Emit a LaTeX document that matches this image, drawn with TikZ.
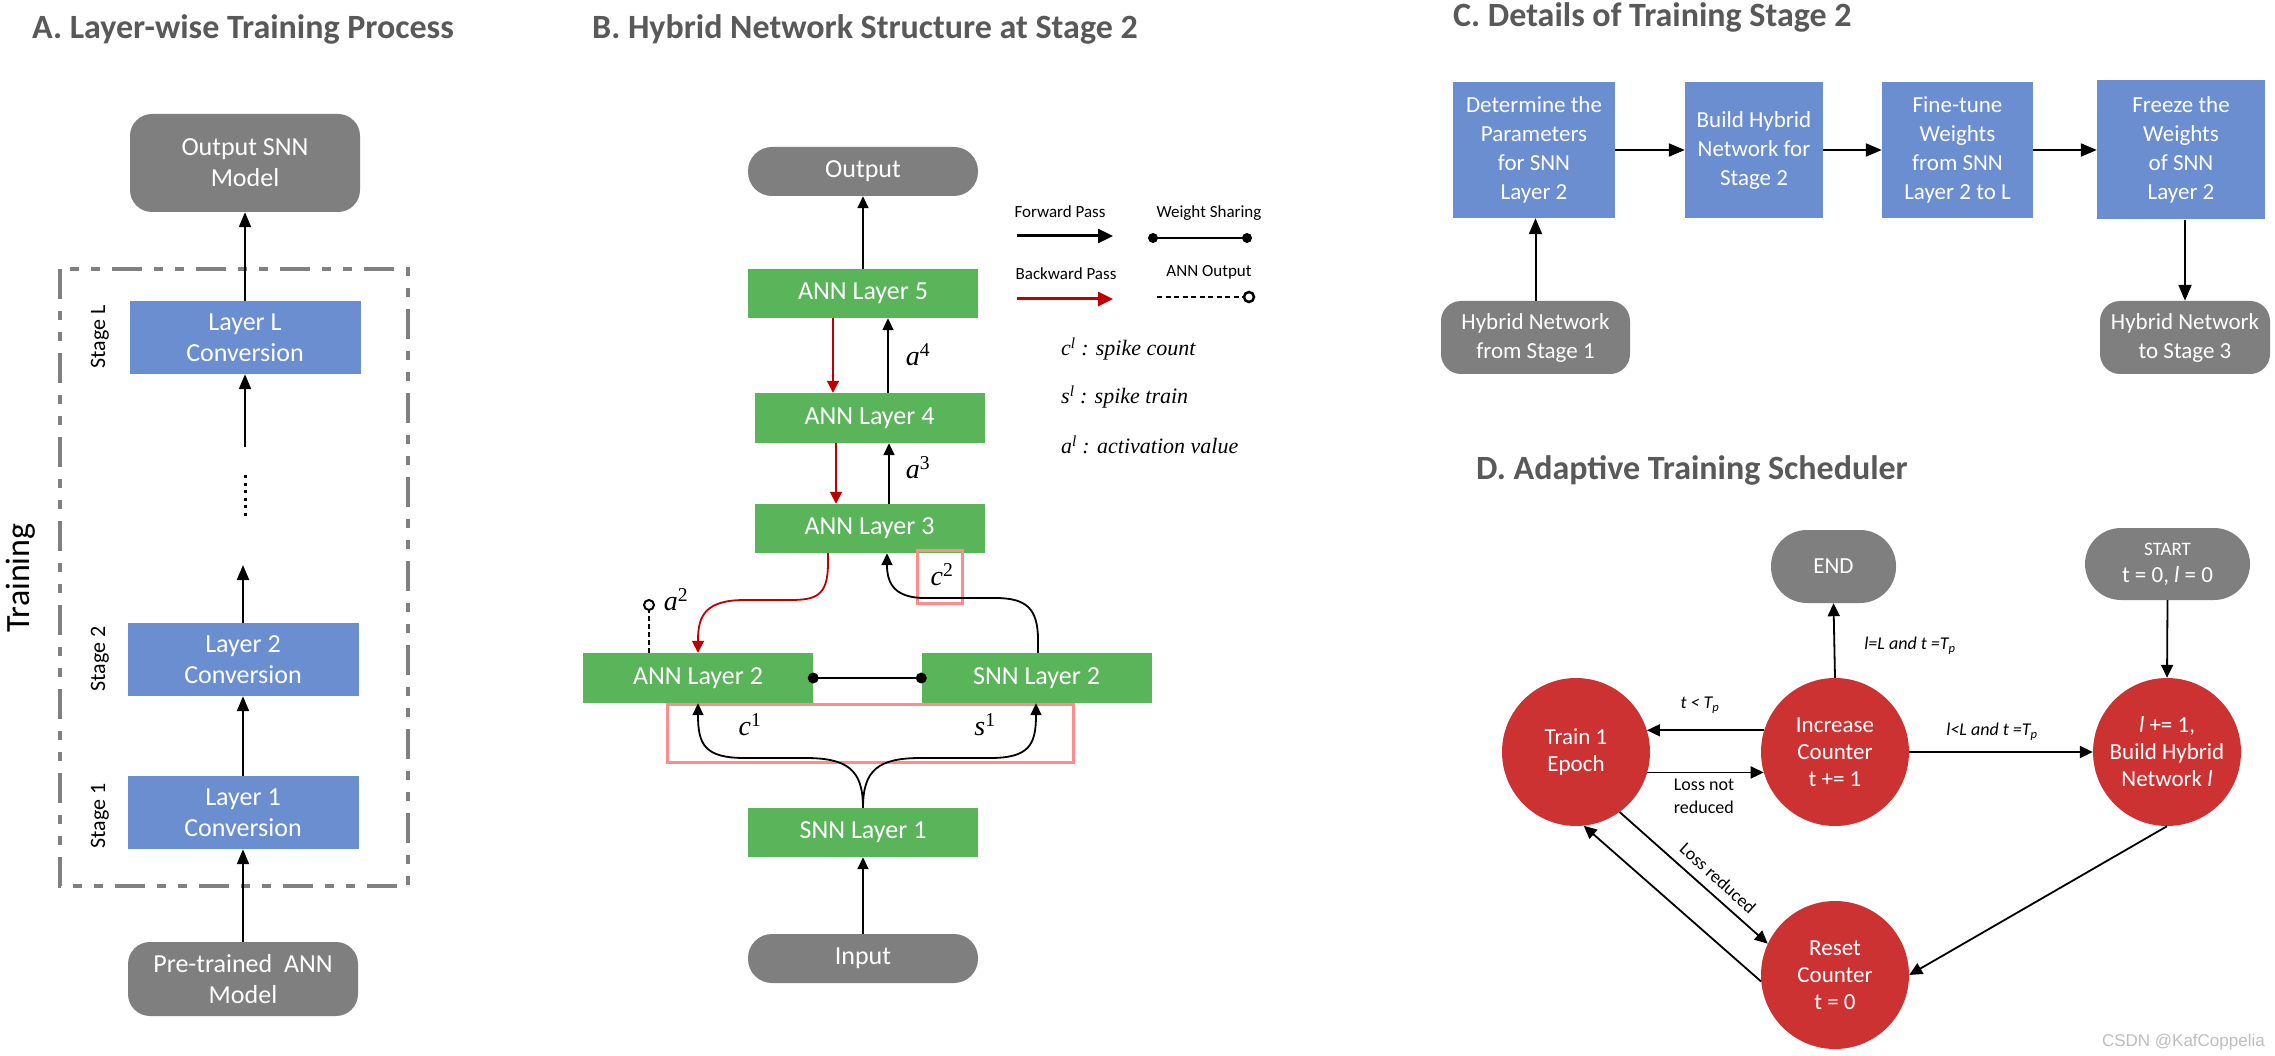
\documentclass[tikz,border=0pt]{standalone}
\usepackage{fontspec}
\setmainfont{Carlito}
\newfontfamily\tnr{Liberation Serif}
\newfontfamily\wmfont{Liberation Sans}
\usetikzlibrary{arrows.meta}
\definecolor{boxgray}{HTML}{7F7F7F}
\definecolor{boxblue}{HTML}{6A8ECF}
\definecolor{boxgreen}{HTML}{5AB45A}
\definecolor{circred}{HTML}{CD3232}
\definecolor{titlegray}{HTML}{595959}
\definecolor{pinkc}{HTML}{FF8C8C}
\definecolor{backred}{HTML}{C00000}
\definecolor{dashgray}{HTML}{808080}
\definecolor{wmgray}{HTML}{BEBEBE}
\begin{document}
\begin{tikzpicture}[x=1pt,y=-1pt,
  every node/.style={inner sep=0pt},
  ttl/.style={font=\fontsize{34}{40}\selectfont\bfseries, text=titlegray, anchor=base west},
  fA/.style={font=\fontsize{26}{31}\selectfont},
  grayA/.style={fill=boxgray, text=white, rounded corners=22pt, align=center, fA, minimum width=230pt, minimum height=74pt},
  blueA/.style={fill=boxblue, text=white, align=center, fA, minimum width=231pt, minimum height=73pt},
  stagelbl/.style={rotate=90, anchor=base, font=\fontsize{22}{26}\selectfont},
  arrA/.style={-{Triangle[length=15pt,width=12pt]}, line width=2.2pt},
  greenB/.style={fill=boxgreen, text=white, font=\fontsize{26}{31}\selectfont, minimum width=230pt, minimum height=49pt},
  grayB/.style={fill=boxgray, text=white, font=\fontsize{26}{31}\selectfont, minimum width=230pt, minimum height=49pt, rounded corners=24pt},
  arrB/.style={-{Triangle[length=12pt,width=11pt]}, line width=1.8pt},
  redB/.style={-{Triangle[length=12pt,width=12pt]}, line width=1.8pt, draw=backred, fill=backred},
  mathlbl/.style={font=\fontsize{28}{32}\selectfont\tnr\itshape},
  legtxt/.style={font=\fontsize{17}{20}\selectfont},
  legmath/.style={font=\fontsize{22}{26}\selectfont\tnr\itshape, anchor=west},
  blueC/.style={fill=boxblue, text=white, align=center, font=\fontsize{23}{29}\selectfont, minimum height=136pt},
  grayC/.style={fill=boxgray, text=white, align=center, font=\fontsize{23}{29}\selectfont, rounded corners=20pt, minimum height=73pt},
  arrC/.style={-{Triangle[length=16pt,width=13pt]}, line width=2pt},
  redD/.style={circle, fill=circred, text=white, align=center, font=\fontsize{23}{27}\selectfont, minimum size=148pt},
  grayD/.style={fill=boxgray, text=white, align=center, font=\fontsize{23}{27}\selectfont, rounded corners=36pt, minimum height=73pt},
  arrD/.style={-{Triangle[length=13pt,width=12pt]}, line width=1.8pt},
  lblD/.style={font=\fontsize{18}{23}\selectfont}
]
\fill[white] (0,0) rectangle (2275,1056);
\useasboundingbox (0,0) rectangle (2275,1056);

% ---------------- Panel A ----------------
\node[ttl] (tA) at (32,39) {A. Layer-wise Training Process};
\draw[dashgray, line width=3.5pt, dash pattern=on 30pt off 12pt on 9pt off 12pt on 9pt off 12pt] (60,269) rectangle (408,886);
\node[grayA, minimum height=98pt] (outA) at (245,163) {Output SNN\\Model};
\node[blueA] (LL) at (245,337.5) {Layer L\\Conversion};
\node[blueA] (L2) at (243,659.5) {Layer 2\\Conversion};
\node[blueA] (L1) at (243,812.5) {Layer 1\\Conversion};
\node[grayA] (pre) at (243,979) {Pre-trained~ ANN\\Model};
\node[stagelbl] (sL) at (105,337) {Stage L};
\node[stagelbl] (s2) at (105,659) {Stage 2};
\node[stagelbl] (s1) at (105,816) {Stage 1};
\node[rotate=90, anchor=base, font=\fontsize{34}{40}\selectfont] (trn) at (29,578) {Training};
\coordinate (dotsT) at (245,475);
\coordinate (dotsB) at (245,518);
\coordinate (arrLLin) at (245,447);
\coordinate (arrL2out) at (243,565);
\draw[line width=3pt, dash pattern=on 3pt off 4.5pt] (dotsT) -- (dotsB);
\draw[arrA] (LL.north) -- (outA.south);
\draw[arrA] (arrLLin) -- (LL.south);
\draw[arrA] (L2.north) -- (arrL2out);
\draw[arrA] (L1.north) -- (L2.south);
\draw[arrA] (pre.north) -- (L1.south);

% ---------------- Panel B ----------------
\node[ttl] (tB) at (592,39) {B. Hybrid Network Structure at Stage 2};
\node[grayB] (outB) at (863,171.5) {Output};
\node[greenB] (a5) at (863,293.5) {ANN Layer 5};
\node[greenB, minimum height=50pt] (a4) at (869.5,418) {ANN Layer 4};
\node[greenB] (a3) at (869.5,528.5) {ANN Layer 3};
\node[greenB, minimum height=50pt] (a2) at (698,678) {ANN Layer 2};
\node[greenB, minimum height=50pt] (sn2) at (1036.5,678) {SNN Layer 2};
\node[greenB] (sn1) at (863,832.5) {SNN Layer 1};
\node[grayB] (inB) at (863,958.5) {Input};

\coordinate (r54) at (833,0);
\coordinate (b45) at (888,0);
\coordinate (r43) at (836,0);
\coordinate (b34) at (889,0);
\draw[arrB] (a5.north) -- (outB.south);
\draw[redB] (a5.south -| r54) -- (a4.north -| r54);
\draw[arrB] (a4.north -| b45) -- (a5.south -| b45);
\draw[redB] (a4.south -| r43) -- (a3.north -| r43);
\draw[arrB] (a3.north -| b34) -- (a4.south -| b34);
\node[mathlbl] (la4) at (918,355) {a\textsuperscript{\upshape 4}};
\node[mathlbl] (la3) at (918,468) {a\textsuperscript{\upshape 3}};

% highlight boxes
\draw[pinkc, line width=3pt] (917,550) rectangle (962,603);
\draw[pinkc, line width=3pt] (667,704) rectangle (1073,762);

% red backward curve a3 -> a2
\coordinate (rc0) at (828,0);
\draw[redB, fill=none] (a3.south -| rc0) -- (828,563) .. controls (828,596) and (816,600) .. (790,600) -- (745,600) .. controls (706,600) and (698,615) .. (698,640) -- (a2.north);
% black forward curve sn2 -> a3
\coordinate (bc0) at (887,0);
\coordinate (bc1) at (1038,0);
\draw[arrB] (sn2.north -| bc1) -- (1038,640) .. controls (1038,608) and (1026,598) .. (995,598) -- (925,598) .. controls (896,598) and (887,585) .. (887,565) -- (a3.south -| bc0);
\node[mathlbl] (lc2) at (942,575) {c\textsuperscript{\upshape 2}};

% ANN output a2
\coordinate (a2o) at (649,605);
\coordinate (a2x) at (649,0);
\draw[line width=2pt, dash pattern=on 5pt off 3pt, shorten >=5pt] (a2.north -| a2x) -- (a2o);
\draw[line width=2pt, fill=white] (a2o) circle (5pt);
\node[mathlbl] (la2) at (676,600) {a\textsuperscript{\upshape 2}};

% weight sharing
\draw[line width=2pt] (a2.east) -- (sn2.west);
\fill (a2.east) circle (5.5pt);
\fill (sn2.west) circle (5.5pt);

% sn1 -> a2, sn2
\coordinate (c1x) at (698,0);
\coordinate (s1x) at (1036,0);
\draw[arrB] (sn1.north) .. controls (863,770) and (848,758) .. (805,758) -- (745,758) .. controls (705,758) and (698,745) .. (698,715) -- (a2.south -| c1x);
\draw[arrB] (sn1.north) .. controls (863,770) and (878,758) .. (921,758) -- (990,758) .. controls (1029,758) and (1036,745) .. (1036,715) -- (sn2.south -| s1x);
\node[mathlbl] (lc1) at (750,725) {c\textsuperscript{\upshape 1}};
\node[mathlbl] (ls1) at (985,725) {s\textsuperscript{\upshape 1}};
\draw[arrB] (inB.north) -- (sn1.south);

% legend
\node[legtxt] (lgF) at (1060,212) {Forward Pass};
\node[legtxt] (lgW) at (1209,213) {Weight Sharing};
\node[legtxt] (lgB) at (1066,274) {Backward Pass};
\node[legtxt] (lgA) at (1209,272) {ANN Output};
\coordinate (fa0) at (1017,236); \coordinate (fa1) at (1113,236);
\coordinate (ws0) at (1153,238); \coordinate (ws1) at (1247,238);
\coordinate (ba0) at (1017,299); \coordinate (ba1) at (1113,299);
\coordinate (ao0) at (1157,297); \coordinate (ao1) at (1249,297);
\draw[-{Triangle[length=15pt,width=14pt]}, line width=3pt] (fa0) -- (fa1);
\draw[line width=2.5pt] (ws0) -- (ws1);
\fill (ws0) circle (5pt);
\fill (ws1) circle (5pt);
\draw[-{Triangle[length=15pt,width=14pt]}, line width=3pt, draw=backred, fill=backred] (ba0) -- (ba1);
\draw[line width=2.5pt, dash pattern=on 5pt off 3.5pt, shorten >=5pt] (ao0) -- (ao1);
\draw[line width=2.5pt, fill=white] (ao1) circle (5pt);
\node[legmath] (nc) at (1061,349) {c\textsuperscript{l} : spike count};
\node[legmath] (ns) at (1061,397) {s\textsuperscript{l} : spike train};
\node[legmath] (na) at (1061,445) {a\textsuperscript{l} : activation value};

% ---------------- Panel C ----------------
\node[ttl] (tC) at (1453,27) {C. Details of Training Stage 2};
\node[blueC, minimum width=162pt] (c1) at (1534,150) {Determine the\\Parameters\\for SNN\\Layer 2};
\node[blueC, minimum width=138pt] (c2) at (1754,150) {Build Hybrid\\Network for\\Stage 2};
\node[blueC, minimum width=151pt] (c3) at (1957.5,150) {Fine-tune\\Weights\\from SNN\\Layer 2 to L};
\node[blueC, minimum width=168pt, minimum height=139pt] (c4) at (2181,150) {Freeze the\\Weights\\of SNN\\Layer 2};
\node[grayC, minimum width=189pt] (hn1) at (1535.5,337.5) {Hybrid Network\\from Stage 1};
\node[grayC, minimum width=170pt] (hn3) at (2185,337.5) {Hybrid Network\\to Stage 3};
\draw[arrC] (c1.east) -- (c2.west);
\draw[arrC] (c2.east) -- (c3.west);
\draw[arrC] (c3.east) -- (c4.west);
\draw[arrC] (hn1.north) -- (c1.south -| hn1.north);
\draw[arrC] (c4.south -| hn3.north) -- (hn3.north);

% ---------------- Panel D ----------------
\node[ttl] (tD) at (1476,479) {D. Adaptive Training Scheduler};
\node[grayD, minimum width=125pt] (endD) at (1833.5,566.5) {END};
\node[grayD, minimum width=165pt, minimum height=72pt] (startD) at (2167.5,564) {{\fontsize{19}{22}\selectfont START}\\t = 0, \textit{l} = 0};
\node[redD] (tr) at (1576,752) {Train 1\\Epoch};
\node[redD] (inc) at (1835,752) {Increase\\Counter\\t += 1};
\node[redD] (bld) at (2167,752) {\textit{l} += 1,\\Build Hybrid\\Network \textit{l}};
\node[redD] (rst) at (1835,975) {Reset\\Counter\\t = 0};

\draw[arrD] (inc.north) -- (endD.south);
\draw[arrD] (inc.163) -- (tr.17);
\draw[arrD] (tr.-16) -- (inc.196);
\draw[arrD] (inc.east) -- (bld.west);
\draw[arrD] (startD.south) -- (bld.north);
\draw[arrD] (bld.south) -- (rst.east);
\draw[arrD] (tr.-54) -- (rst.155);
\draw[arrD] (rst.185) -- (tr.-84);

\node[lblD, font=\fontsize{18}{23}\selectfont\itshape] (lEnd) at (1910,646) {l=L and t =T\textsubscript{p}};
\node[lblD, font=\fontsize{18}{23}\selectfont\itshape] (lLt) at (1700,705) {t < T\textsubscript{p}};
\node[lblD, align=left] (lLnr) at (1704,796) {Loss not\\reduced};
\node[lblD, font=\fontsize{18}{23}\selectfont\itshape] (lBld) at (1992,732) {l<L and t =T\textsubscript{p}};
\node[lblD, rotate=-42] (lLr) at (1718,878) {Loss reduced};

% watermark
\node[anchor=east, text=wmgray, font=\fontsize{17}{20}\selectfont\wmfont] (wm) at (2265,1042) {CSDN @KafCoppelia};
\end{tikzpicture}
\end{document}
